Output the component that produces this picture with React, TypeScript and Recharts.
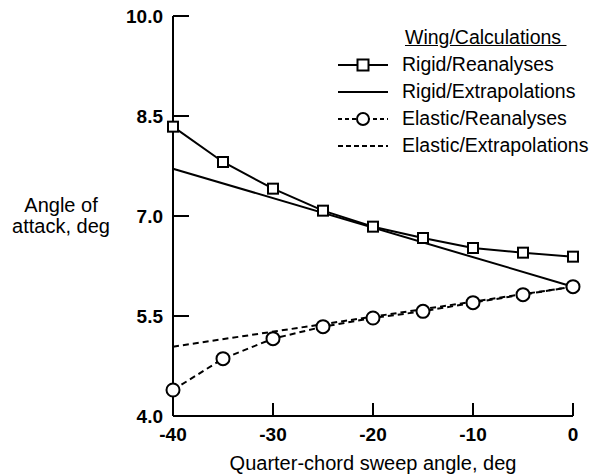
import { LineChart, Line, XAxis, YAxis } from "recharts"

const FONT = '"Liberation Sans", Arial, Helvetica, sans-serif'

const sweep = [-40, -35, -30, -25, -20, -15, -10, -5, 0]
const rigidReanalyses = [8.34, 7.81, 7.41, 7.08, 6.84, 6.67, 6.52, 6.45, 6.39]
const elasticReanalyses = [4.39, 4.86, 5.16, 5.34, 5.47, 5.57, 5.7, 5.82, 5.94]

const extrapSweep = [-40, 0]
const rigidExtrapolations = [7.71, 5.94]
const elasticExtrapolations = [5.04, 5.94]

const xTicks = [-40, -30, -20, -10, 0]
const yTicks = [4.0, 5.5, 7.0, 8.5, 10.0]

const reanalysisData = sweep.map((x, i) => ({
    x,
    rigid: rigidReanalyses[i],
    elastic: elasticReanalyses[i]
}))

const rigidExtrapData = extrapSweep.map((x, i) => ({ x, rigidExtrap: rigidExtrapolations[i] }))
const elasticExtrapData = extrapSweep.map((x, i) => ({ x, elasticExtrap: elasticExtrapolations[i] }))

const legendRows = [
    { name: "Rigid/Reanalyses", dash: undefined, marker: "square" },
    { name: "Rigid/Extrapolations", dash: undefined, marker: null },
    { name: "Elastic/Reanalyses", dash: "4 3", marker: "circle" },
    { name: "Elastic/Extrapolations", dash: "5 3", marker: null }
]

function SquareDot(props: any) {
    const { cx, cy, index } = props
    if (cx == null || cy == null) return null
    return <rect key={`sq-${index}`} x={cx - 5} y={cy - 5} width={10} height={10} fill="#fff" stroke="#000" strokeWidth={2} />
}

function CircleDot(props: any) {
    const { cx, cy, index } = props
    if (cx == null || cy == null) return null
    return <circle key={`ci-${index}`} cx={cx} cy={cy} r={6.5} fill="#fff" stroke="#000" strokeWidth={2} />
}

// legend drawn as an overlay so it doesn't eat plot space
function ChartLegend() {
    return (
        <div style={{ position: "absolute", left: 338, top: 24, fontFamily: FONT, fontSize: 19.5, color: "#000", lineHeight: "27px" }}>
            <div style={{ paddingLeft: 67, textDecoration: "underline" }}>Wing/Calculations&nbsp;</div>
            {legendRows.map((row) => (
                <div key={row.name} style={{ display: "flex", alignItems: "center", height: 27 }}>
                    <svg width={50} height={16} style={{ marginRight: 14 }}>
                        <line x1={0} y1={8} x2={50} y2={8} stroke="#000" strokeWidth={2} strokeDasharray={row.dash} />
                        {row.marker === "square" && <rect x={19.5} y={2.5} width={11} height={11} fill="#fff" stroke="#000" strokeWidth={2} />}
                        {row.marker === "circle" && <circle cx={25} cy={8} r={6} fill="#fff" stroke="#000" strokeWidth={2} />}
                    </svg>
                    <span>{row.name}</span>
                </div>
            ))}
        </div>
    )
}

function YLabel() {
    return (
        <text textAnchor="middle" fontFamily={FONT} fontSize={20} fill="#000">
            <tspan x={61} y={212}>Angle of</tspan>
            <tspan x={61} y={233}>attack, deg</tspan>
        </text>
    )
}

export default function App() {
    return (
        <div style={{ position: "absolute", left: 0, top: 0, width: 602, height: 476, background: "#fff" }}>
            <LineChart
                width={602}
                height={476}
                margin={{ top: 16, right: 29, bottom: 0, left: 0 }}
                style={{ fontFamily: FONT }}
            >
                <XAxis
                    dataKey="x"
                    type="number"
                    domain={[-40, 0]}
                    ticks={xTicks}
                    height={60}
                    allowDuplicatedCategory={false}
                    stroke="#000"
                    strokeWidth={2}
                    tickSize={-13}
                    tickMargin={25}
                    tick={{ fill: "#000", fontSize: 19, fontWeight: "bold", fontFamily: FONT }}
                    label={{ value: "Quarter-chord sweep angle, deg", position: "insideBottom", offset: 6, fill: "#000", fontSize: 20, fontFamily: FONT }}
                />
                <YAxis
                    type="number"
                    domain={[4, 10]}
                    ticks={yTicks}
                    width={173}
                    stroke="#000"
                    strokeWidth={2}
                    tickSize={-16}
                    tickMargin={26}
                    tickFormatter={(v: number) => v.toFixed(1)}
                    tick={{ fill: "#000", fontSize: 19, fontWeight: "bold", fontFamily: FONT }}
                    label={{ content: () => <YLabel /> }}
                />
                <Line
                    data={rigidExtrapData}
                    dataKey="rigidExtrap"
                    stroke="#000"
                    strokeWidth={2}
                    dot={false}
                    isAnimationActive={false}
                />
                <Line
                    data={elasticExtrapData}
                    dataKey="elasticExtrap"
                    stroke="#000"
                    strokeWidth={2}
                    strokeDasharray="6 4"
                    dot={false}
                    isAnimationActive={false}
                />
                <Line
                    data={reanalysisData}
                    dataKey="rigid"
                    stroke="#000"
                    strokeWidth={2}
                    dot={SquareDot}
                    isAnimationActive={false}
                />
                <Line
                    data={reanalysisData}
                    dataKey="elastic"
                    stroke="#000"
                    strokeWidth={2}
                    strokeDasharray="6 4"
                    dot={CircleDot}
                    isAnimationActive={false}
                />
            </LineChart>
            <ChartLegend />
        </div>
    )
}
